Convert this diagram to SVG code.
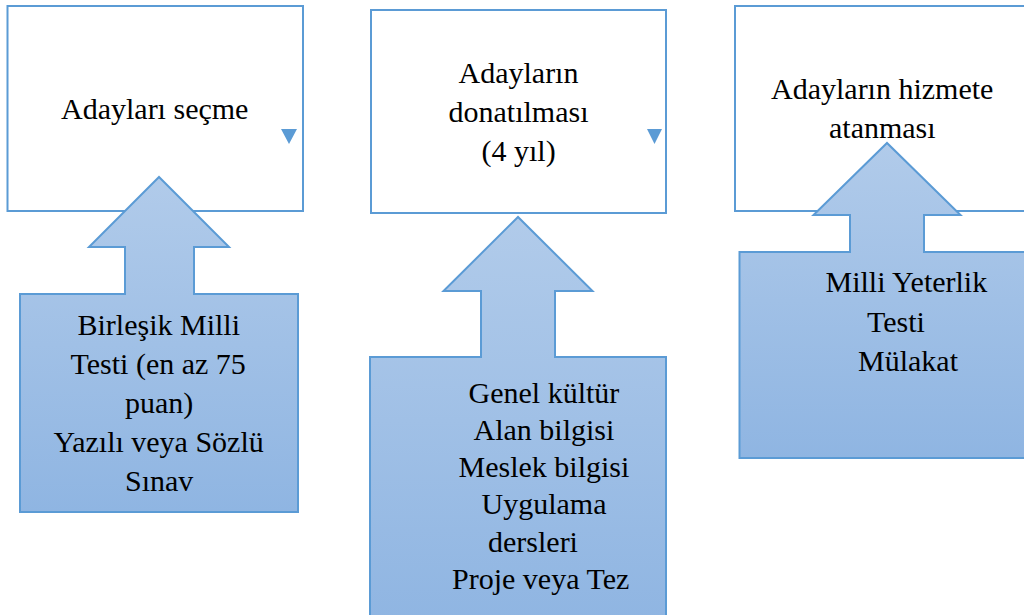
<svg xmlns="http://www.w3.org/2000/svg" width="1024" height="615" viewBox="0 0 1024 615">
<defs>
<linearGradient id="g" x1="0" y1="0" x2="0" y2="1">
<stop offset="0" stop-color="#b1cbea"/>
<stop offset="1" stop-color="#8fb5e2"/>
</linearGradient>
</defs>
<rect width="1024" height="615" fill="#ffffff"/>
<g id="node-select">
<rect x="7.5" y="6" width="295.5" height="205" fill="#ffffff" stroke="#5b9bd5" stroke-width="2"/>
<text x="61" y="119" font-family="Liberation Serif" font-size="30">Adayları seçme</text>
<polygon points="281,129 297,129 289,144" fill="#5b9bd5"/>
</g>
<g id="node-equip">
<rect x="371" y="10" width="295" height="203" fill="#ffffff" stroke="#5b9bd5" stroke-width="2"/>
<text x="458.5" y="83" font-family="Liberation Serif" font-size="30">Adayların</text>
<text x="448.5" y="122" font-family="Liberation Serif" font-size="30">donatılması</text>
<text x="481.5" y="161" font-family="Liberation Serif" font-size="30">(4 yıl)</text>
<polygon points="647,129 662,129 654.5,144" fill="#5b9bd5"/>
</g>
<g id="node-assign">
<rect x="735" y="6" width="296" height="205" fill="#ffffff" stroke="#5b9bd5" stroke-width="2"/>
<text x="771" y="99" font-family="Liberation Serif" font-size="30">Adayların hizmete</text>
<text x="829" y="138" font-family="Liberation Serif" font-size="30">atanması</text>
</g>
<g id="connectors">
<g id="callout-1">
<polygon points="20,294 125,294 125,247 89,247 159,177 229,247 194,247 194,294 298,294 298,512 20,512" fill="url(#g)" stroke="#5b9bd5" stroke-width="2"/>
<text x="77.5" y="335" font-family="Liberation Serif" font-size="30">Birleşik Milli</text>
<text x="70.5" y="374" font-family="Liberation Serif" font-size="30">Testi (en az 75</text>
<text x="125" y="413" font-family="Liberation Serif" font-size="30">puan)</text>
<text x="53.5" y="452" font-family="Liberation Serif" font-size="30">Yazılı veya Sözlü</text>
<text x="125" y="491" font-family="Liberation Serif" font-size="30">Sınav</text>
</g>
<g id="callout-2">
<polygon points="370,357 481,357 481,291 443.5,291 518,217 592.5,291 555,291 555,357 666,357 666,625 370,625" fill="url(#g)" stroke="#5b9bd5" stroke-width="2"/>
<text x="468.5" y="403" font-family="Liberation Serif" font-size="30">Genel kültür</text>
<text x="473.5" y="440" font-family="Liberation Serif" font-size="30">Alan bilgisi</text>
<text x="458.5" y="477" font-family="Liberation Serif" font-size="30">Meslek bilgisi</text>
<text x="481.5" y="514" font-family="Liberation Serif" font-size="30">Uygulama</text>
<text x="488" y="551.5" font-family="Liberation Serif" font-size="30">dersleri</text>
<text x="452" y="589" font-family="Liberation Serif" font-size="30">Proje veya Tez</text>
</g>
<g id="callout-3">
<polygon points="739.5,252 850,252 850,215 813.5,215 887,143 960.5,215 924,215 924,252 1034,252 1034,458 739.5,458" fill="url(#g)" stroke="#5b9bd5" stroke-width="2"/>
<text x="825.5" y="292" font-family="Liberation Serif" font-size="30">Milli Yeterlik</text>
<text x="867" y="332" font-family="Liberation Serif" font-size="30">Testi</text>
<text x="858" y="371" font-family="Liberation Serif" font-size="30">Mülakat</text>
</g>
</g>
</svg>
